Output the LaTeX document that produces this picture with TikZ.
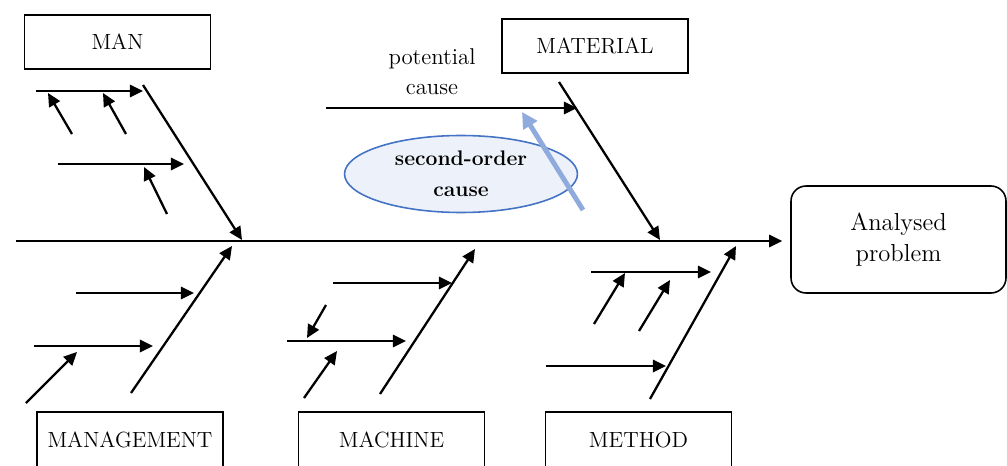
\documentclass[tikz,border=0pt]{standalone}
\usepackage{tikz}
\usetikzlibrary{arrows.meta,positioning,shapes.geometric,calc}
\usepackage{xcolor}
\definecolor{ovalblue}{RGB}{68,114,196}
\definecolor{ovalfill}{RGB}{237,242,250}
\definecolor{arrowblue}{RGB}{143,170,220}

\begin{document}
\begin{tikzpicture}[x=0.02cm, y=-0.02cm, >={Triangle[length=7.5pt,width=7pt]}]
\tikzset{
  cat/.style={draw, line width=0.9pt, minimum width=3.72cm, minimum height=1.08cm, inner sep=0pt, font=\fontsize{12.5}{15}\selectfont},
  effect/.style={draw, line width=0.9pt, rounded corners=3mm, minimum width=4.3cm, minimum height=2.14cm, align=center, font=\fontsize{14}{18}\selectfont},
  bone/.style={->, line width=1.3pt},
  oval/.style={ellipse, draw=ovalblue, line width=0.9pt, fill=ovalfill, minimum width=4.66cm, minimum height=1.54cm, inner sep=0pt, align=center, font=\fontsize{12}{17.5}\selectfont\bfseries}
}
\useasboundingbox[fill=white] (0,0) rectangle (1007,466);
\clip (0,0) rectangle (1007,466);

% head and spine
\node[effect] (prob) at (898.5,239.5) {Analysed\\problem};
\coordinate (tail) at (16,241);
\draw[bone, shorten >=0.16cm] (tail) -- (tail -| prob.west);

% category boxes
\node[cat] (man) at (117.5,42) {MAN};
\node[cat] (mat) at (595,46) {MATERIAL};
\node[cat, minimum height=1.12cm] (mgt) at (130,440) {MANAGEMENT};
\node[cat, minimum height=1.12cm] (mac) at (391.5,440) {MACHINE};
\node[cat, minimum height=1.12cm] (met) at (638.5,440) {METHOD};

% MAN
\coordinate (manA) at (143,85);  \coordinate (manB) at (242,240);
\coordinate (ma1) at (36,91);    \coordinate (mb1) at (143,91);
\coordinate (ma2) at (58,164);   \coordinate (mb2) at (184,164);
\coordinate (mc1) at (72,134);   \coordinate (md1) at (48,93);
\coordinate (mc2) at (126,134);  \coordinate (md2) at (103,93);
\coordinate (mc3) at (167,214);  \coordinate (md3) at (144,167);
\draw[bone] (manA) -- (manB);
\draw[bone] (ma1) -- (mb1);
\draw[bone] (ma2) -- (mb2);
\draw[bone] (mc1) -- (md1);
\draw[bone] (mc2) -- (md2);
\draw[bone] (mc3) -- (md3);

% MATERIAL
\node[align=center, font=\fontsize{13}{17}\selectfont] (pc) at (432,72) {potential\\cause};
\coordinate (matA) at (559,82);  \coordinate (matB) at (660,240);
\coordinate (ta1) at (326,108);  \coordinate (tb1) at (577,108);
\draw[bone] (matA) -- (matB);
\draw[bone] (ta1) -- (tb1);
\node[oval] (soc) at (461,174) {second-order\\cause};
\coordinate (bs) at (583,210);   \coordinate (bt) at (522,112);
\draw[->, line width=2.8pt, arrowblue, >={Triangle[length=9pt,width=9pt]}] (bs) -- (bt);

% MANAGEMENT
\coordinate (mgA) at (131,393);  \coordinate (mgB) at (232,246);
\coordinate (ga1) at (76,293);   \coordinate (gb1) at (194,293);
\coordinate (ga2) at (34,346);   \coordinate (gb2) at (153,346);
\coordinate (gc1) at (26,403);   \coordinate (gd1) at (77,352);
\draw[bone] (mgA) -- (mgB);
\draw[bone] (ga1) -- (gb1);
\draw[bone] (ga2) -- (gb2);
\draw[bone] (gc1) -- (gd1);

% MACHINE
\coordinate (mcA) at (380,394);  \coordinate (mcB) at (475,249);
\coordinate (ca1) at (333,283);  \coordinate (cb1) at (452,283);
\coordinate (ca2) at (287,341);  \coordinate (cb2) at (406,341);
\coordinate (cc1) at (326,305);  \coordinate (cd1) at (307,338);
\coordinate (cc2) at (304,398);  \coordinate (cd2) at (337,351);
\draw[bone] (mcA) -- (mcB);
\draw[bone] (ca1) -- (cb1);
\draw[bone] (ca2) -- (cb2);
\draw[bone] (cc1) -- (cd1);
\draw[bone] (cc2) -- (cd2);

% METHOD
\coordinate (meA) at (650,399);  \coordinate (meB) at (736,246);
\coordinate (ea1) at (591,272);  \coordinate (eb1) at (711,272);
\coordinate (ea2) at (546,366);  \coordinate (eb2) at (666,366);
\coordinate (ec1) at (594,324);  \coordinate (ed1) at (625,273);
\coordinate (ec2) at (639,331);  \coordinate (ed2) at (670,280);
\draw[bone] (meA) -- (meB);
\draw[bone] (ea1) -- (eb1);
\draw[bone] (ea2) -- (eb2);
\draw[bone] (ec1) -- (ed1);
\draw[bone] (ec2) -- (ed2);
\end{tikzpicture}
\end{document}
